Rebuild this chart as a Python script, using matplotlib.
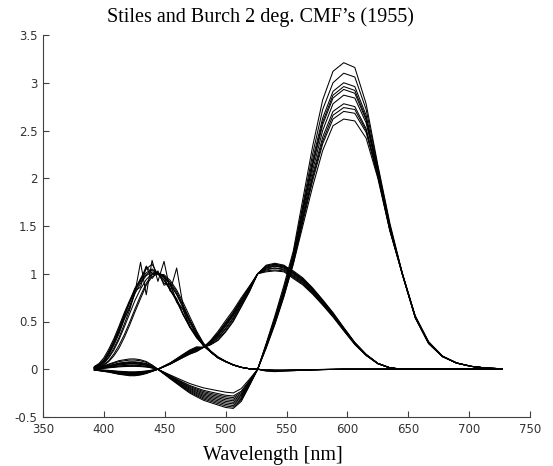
import matplotlib
matplotlib.use('Agg')
import matplotlib.pyplot as plt

# wavelengths (nm) of the 250 cm^-1 sampling, 392.2 .. 727.3
wl = [392.2, 396.0, 400.0, 404.0, 408.2, 412.4, 416.7, 421.1, 425.5, 430.1, 434.8, 439.6,
      444.4, 449.4, 454.5, 459.8, 465.1, 470.6, 476.2, 481.9, 487.8, 493.8, 500.0, 506.3,
      512.8, 519.5, 526.3, 533.3, 540.5, 547.9, 555.6, 563.4, 571.4, 579.7, 588.2, 597.0,
      606.1, 615.4, 625.0, 634.9, 645.2, 655.7, 666.7, 678.0, 689.7, 701.8, 714.3, 727.3]

# r-bar, one row per observer
r_obs = [
    [0.01, 0.015, 0.02, 0.03, 0.04, 0.05, 0.055, 0.06, 0.06, 0.055, 0.045, 0.025,
     0.0, -0.048, -0.096, -0.144, -0.192, -0.24, -0.276, -0.312, -0.336, -0.36, -0.384, -0.396,
     -0.324, -0.168, 0.0, 0.27, 0.56, 0.88, 1.24, 1.78, 2.33, 2.82, 3.12, 3.21,
     3.16, 2.78, 2.14, 1.53, 1.00, 0.56, 0.28, 0.135, 0.065, 0.03, 0.012, 0.005],
    [0.016, 0.024, 0.032, 0.048, 0.064, 0.08, 0.088, 0.096, 0.096, 0.088, 0.072, 0.04,
     0.0, -0.04, -0.08, -0.12, -0.16, -0.20, -0.23, -0.26, -0.28, -0.30, -0.32, -0.33,
     -0.27, -0.14, 0.0, 0.26, 0.54, 0.85, 1.21, 1.72, 2.25, 2.72, 3.00, 3.10,
     3.06, 2.72, 2.12, 1.51, 1.00, 0.55, 0.28, 0.137, 0.066, 0.03, 0.012, 0.005],
    [0.007, 0.011, 0.014, 0.021, 0.028, 0.035, 0.039, 0.042, 0.042, 0.039, 0.032, 0.018,
     0.0, -0.034, -0.068, -0.102, -0.136, -0.17, -0.196, -0.221, -0.238, -0.255, -0.272, -0.28,
     -0.23, -0.119, 0.0, 0.25, 0.53, 0.83, 1.19, 1.69, 2.19, 2.63, 2.91, 3.00,
     2.96, 2.66, 2.09, 1.50, 0.99, 0.55, 0.28, 0.136, 0.065, 0.03, 0.012, 0.005],
    [0.012, 0.018, 0.024, 0.036, 0.048, 0.06, 0.066, 0.072, 0.072, 0.066, 0.054, 0.03,
     0.0, -0.044, -0.088, -0.132, -0.176, -0.22, -0.253, -0.286, -0.308, -0.33, -0.352, -0.363,
     -0.297, -0.154, 0.0, 0.24, 0.51, 0.81, 1.17, 1.66, 2.15, 2.59, 2.87, 2.96,
     2.92, 2.63, 2.08, 1.49, 1.00, 0.56, 0.29, 0.14, 0.067, 0.031, 0.013, 0.005],
    [0.005, 0.008, 0.01, 0.015, 0.02, 0.025, 0.028, 0.03, 0.03, 0.028, 0.023, 0.013,
     0.0, -0.038, -0.076, -0.114, -0.152, -0.19, -0.219, -0.247, -0.266, -0.285, -0.304, -0.314,
     -0.257, -0.133, 0.0, 0.25, 0.52, 0.82, 1.18, 1.65, 2.13, 2.56, 2.84, 2.93,
     2.89, 2.61, 2.07, 1.48, 0.99, 0.55, 0.28, 0.135, 0.065, 0.03, 0.012, 0.005],
    [0.018, 0.027, 0.036, 0.054, 0.072, 0.09, 0.099, 0.108, 0.108, 0.099, 0.081, 0.045,
     0.0, -0.05, -0.10, -0.15, -0.20, -0.25, -0.288, -0.325, -0.35, -0.375, -0.40, -0.41,
     -0.338, -0.175, 0.0, 0.24, 0.50, 0.80, 1.15, 1.61, 2.08, 2.50, 2.78, 2.87,
     2.84, 2.58, 2.06, 1.47, 1.00, 0.55, 0.28, 0.136, 0.066, 0.03, 0.012, 0.005],
    [0.009, 0.014, 0.018, 0.027, 0.036, 0.045, 0.05, 0.054, 0.054, 0.05, 0.041, 0.023,
     0.0, -0.03, -0.06, -0.09, -0.12, -0.15, -0.173, -0.195, -0.21, -0.225, -0.24, -0.248,
     -0.203, -0.105, 0.0, 0.23, 0.49, 0.78, 1.13, 1.58, 2.03, 2.43, 2.70, 2.78,
     2.75, 2.52, 2.04, 1.46, 0.99, 0.54, 0.27, 0.133, 0.064, 0.03, 0.012, 0.005],
    [0.013, 0.02, 0.026, 0.039, 0.052, 0.065, 0.072, 0.078, 0.078, 0.072, 0.059, 0.033,
     0.0, -0.042, -0.084, -0.126, -0.168, -0.21, -0.242, -0.273, -0.294, -0.315, -0.336, -0.347,
     -0.284, -0.147, 0.0, 0.24, 0.50, 0.79, 1.13, 1.57, 2.00, 2.39, 2.66, 2.74,
     2.72, 2.50, 2.03, 1.46, 1.00, 0.55, 0.28, 0.135, 0.065, 0.03, 0.012, 0.005],
    [0.006, 0.009, 0.012, 0.018, 0.024, 0.03, 0.033, 0.036, 0.036, 0.033, 0.027, 0.015,
     0.0, -0.036, -0.072, -0.108, -0.144, -0.18, -0.207, -0.234, -0.252, -0.27, -0.288, -0.297,
     -0.243, -0.126, 0.0, 0.22, 0.47, 0.76, 1.11, 1.54, 1.97, 2.36, 2.62, 2.70,
     2.68, 2.48, 2.02, 1.45, 0.99, 0.54, 0.27, 0.132, 0.064, 0.03, 0.012, 0.005],
    [0.011, 0.017, 0.022, 0.033, 0.044, 0.055, 0.061, 0.066, 0.066, 0.061, 0.05, 0.028,
     0.0, -0.046, -0.092, -0.138, -0.184, -0.23, -0.265, -0.299, -0.322, -0.345, -0.368, -0.38,
     -0.311, -0.161, 0.0, 0.23, 0.48, 0.77, 1.10, 1.50, 1.91, 2.29, 2.55, 2.62,
     2.60, 2.42, 2.00, 1.45, 1.00, 0.54, 0.27, 0.133, 0.065, 0.03, 0.012, 0.005],
]

# g-bar, one row per observer
g_obs = [
    [-0.007, -0.014, -0.021, -0.028, -0.039, -0.049, -0.056, -0.063, -0.063, -0.056, -0.042, -0.021,
     0.0, 0.034, 0.067, 0.112, 0.157, 0.202, 0.235, 0.23, 0.304, 0.398, 0.51, 0.62,
     0.748, 0.87, 1.0, 1.09, 1.11, 1.09, 1.02, 0.948, 0.845, 0.721, 0.587, 0.433,
     0.278, 0.155, 0.062, 0.015, 0.0, 0.0, 0.0, 0.0, 0.0, 0.0, 0.0, 0.0],
    [-0.004, -0.008, -0.012, -0.016, -0.022, -0.028, -0.032, -0.036, -0.036, -0.032, -0.024, -0.012,
     0.0, 0.032, 0.064, 0.106, 0.148, 0.191, 0.223, 0.23, 0.292, 0.374, 0.48, 0.59,
     0.724, 0.855, 1.0, 1.08, 1.10, 1.08, 1.01, 0.938, 0.836, 0.714, 0.581, 0.428,
     0.275, 0.153, 0.061, 0.015, 0.0, 0.0, 0.0, 0.0, 0.0, 0.0, 0.0, 0.0],
    [-0.006, -0.012, -0.018, -0.024, -0.034, -0.042, -0.048, -0.054, -0.054, -0.048, -0.036, -0.018,
     0.0, 0.029, 0.058, 0.096, 0.134, 0.173, 0.202, 0.23, 0.272, 0.334, 0.43, 0.54,
     0.684, 0.83, 1.0, 1.04, 1.06, 1.04, 0.97, 0.902, 0.804, 0.686, 0.559, 0.412,
     0.265, 0.147, 0.059, 0.015, 0.0, 0.0, 0.0, 0.0, 0.0, 0.0, 0.0, 0.0],
    [-0.003, -0.006, -0.009, -0.012, -0.017, -0.021, -0.024, -0.027, -0.027, -0.024, -0.018, -0.009,
     0.0, 0.03, 0.06, 0.10, 0.14, 0.18, 0.21, 0.23, 0.28, 0.35, 0.45, 0.56,
     0.70, 0.84, 1.0, 1.06, 1.08, 1.06, 0.99, 0.92, 0.82, 0.70, 0.57, 0.42,
     0.27, 0.15, 0.06, 0.015, 0.0, 0.0, 0.0, 0.0, 0.0, 0.0, 0.0, 0.0],
    [-0.008, -0.015, -0.023, -0.03, -0.042, -0.053, -0.06, -0.068, -0.068, -0.06, -0.045, -0.023,
     0.0, 0.027, 0.054, 0.09, 0.126, 0.162, 0.189, 0.23, 0.26, 0.31, 0.40, 0.51,
     0.66, 0.815, 1.0, 1.03, 1.04, 1.03, 0.96, 0.892, 0.795, 0.679, 0.553, 0.407,
     0.262, 0.146, 0.058, 0.015, 0.0, 0.0, 0.0, 0.0, 0.0, 0.0, 0.0, 0.0],
    [-0.005, -0.009, -0.014, -0.018, -0.025, -0.032, -0.036, -0.041, -0.041, -0.036, -0.027, -0.014,
     0.0, 0.032, 0.065, 0.108, 0.151, 0.194, 0.227, 0.23, 0.296, 0.382, 0.49, 0.60,
     0.732, 0.86, 1.0, 1.08, 1.10, 1.08, 1.03, 0.957, 0.853, 0.728, 0.593, 0.437,
     0.281, 0.156, 0.062, 0.016, 0.0, 0.0, 0.0, 0.0, 0.0, 0.0, 0.0, 0.0],
    [-0.006, -0.011, -0.017, -0.022, -0.031, -0.039, -0.044, -0.05, -0.05, -0.044, -0.033, -0.017,
     0.0, 0.028, 0.056, 0.094, 0.132, 0.169, 0.197, 0.23, 0.268, 0.326, 0.42, 0.53,
     0.676, 0.825, 1.0, 1.05, 1.06, 1.05, 0.98, 0.911, 0.812, 0.693, 0.564, 0.416,
     0.267, 0.149, 0.059, 0.015, 0.0, 0.0, 0.0, 0.0, 0.0, 0.0, 0.0, 0.0],
    [-0.004, -0.007, -0.011, -0.014, -0.02, -0.025, -0.028, -0.032, -0.032, -0.028, -0.021, -0.011,
     0.0, 0.031, 0.061, 0.102, 0.143, 0.184, 0.214, 0.23, 0.284, 0.358, 0.46, 0.57,
     0.708, 0.845, 1.0, 1.06, 1.08, 1.07, 1.00, 0.929, 0.828, 0.707, 0.576, 0.424,
     0.273, 0.152, 0.061, 0.015, 0.0, 0.0, 0.0, 0.0, 0.0, 0.0, 0.0, 0.0],
    [-0.007, -0.013, -0.02, -0.026, -0.036, -0.046, -0.052, -0.059, -0.059, -0.052, -0.039, -0.02,
     0.0, 0.026, 0.053, 0.088, 0.123, 0.158, 0.185, 0.23, 0.256, 0.302, 0.39, 0.50,
     0.652, 0.81, 1.0, 1.02, 1.03, 1.02, 0.95, 0.883, 0.787, 0.672, 0.547, 0.403,
     0.259, 0.144, 0.058, 0.014, 0.0, 0.0, 0.0, 0.0, 0.0, 0.0, 0.0, 0.0],
    [-0.005, -0.01, -0.015, -0.02, -0.028, -0.035, -0.04, -0.045, -0.045, -0.04, -0.03, -0.015,
     0.0, 0.031, 0.062, 0.104, 0.146, 0.187, 0.218, 0.23, 0.288, 0.366, 0.47, 0.58,
     0.716, 0.85, 1.0, 1.07, 1.09, 1.07, 1.01, 0.938, 0.836, 0.714, 0.581, 0.428,
     0.275, 0.153, 0.061, 0.015, 0.0, 0.0, 0.0, 0.0, 0.0, 0.0, 0.0, 0.0],
]

# b-bar, one row per observer
b_obs = [
    [0.02, 0.04, 0.07, 0.13, 0.22, 0.33, 0.47, 0.62, 0.80, 1.12, 0.78, 1.14,
     0.92, 1.13, 0.82, 1.06, 0.66, 0.48, 0.36, 0.26, 0.18, 0.12, 0.08, 0.045,
     0.02, 0.005, 0.0, -0.01, -0.012, -0.012, -0.01, -0.008, -0.005, -0.003, -0.002, 0.0,
     0.0, 0.0, 0.0, 0.0, 0.0, 0.0, 0.0, 0.0, 0.0, 0.0, 0.0, 0.0],
    [0.03, 0.06, 0.12, 0.21, 0.32, 0.45, 0.59, 0.72, 0.84, 0.94, 1.01, 1.05,
     1.00, 0.93, 0.83, 0.71, 0.57, 0.44, 0.33, 0.25, 0.18, 0.12, 0.08, 0.045,
     0.02, 0.005, 0.0, -0.015, -0.02, -0.018, -0.015, -0.01, -0.006, -0.003, -0.002, 0.0,
     0.0, 0.0, 0.0, 0.0, 0.0, 0.0, 0.0, 0.0, 0.0, 0.0, 0.0, 0.0],
    [0.01, 0.025, 0.05, 0.09, 0.16, 0.25, 0.36, 0.49, 0.63, 0.77, 0.90, 0.99,
     1.00, 0.98, 0.91, 0.81, 0.67, 0.52, 0.38, 0.27, 0.19, 0.125, 0.082, 0.046,
     0.02, 0.005, 0.0, -0.01, -0.012, -0.012, -0.01, -0.008, -0.005, -0.003, -0.002, 0.0,
     0.0, 0.0, 0.0, 0.0, 0.0, 0.0, 0.0, 0.0, 0.0, 0.0, 0.0, 0.0],
    [0.02, 0.05, 0.09, 0.17, 0.28, 0.40, 0.55, 0.70, 0.85, 0.93, 1.08, 1.00,
     1.01, 0.90, 0.88, 0.72, 0.62, 0.45, 0.35, 0.24, 0.18, 0.12, 0.08, 0.044,
     0.02, 0.005, 0.0, -0.008, -0.01, -0.01, -0.008, -0.006, -0.004, -0.002, -0.001, 0.0,
     0.0, 0.0, 0.0, 0.0, 0.0, 0.0, 0.0, 0.0, 0.0, 0.0, 0.0, 0.0],
    [0.015, 0.03, 0.06, 0.12, 0.20, 0.31, 0.44, 0.58, 0.72, 0.84, 0.94, 1.00,
     1.01, 0.97, 0.89, 0.78, 0.64, 0.50, 0.37, 0.26, 0.18, 0.12, 0.08, 0.045,
     0.02, 0.005, 0.0, -0.012, -0.015, -0.014, -0.012, -0.009, -0.006, -0.003, -0.002, 0.0,
     0.0, 0.0, 0.0, 0.0, 0.0, 0.0, 0.0, 0.0, 0.0, 0.0, 0.0, 0.0],
    [0.02, 0.04, 0.08, 0.15, 0.25, 0.37, 0.52, 0.64, 0.82, 0.86, 1.07, 0.95,
     1.03, 0.88, 0.90, 0.70, 0.63, 0.44, 0.35, 0.25, 0.18, 0.12, 0.08, 0.045,
     0.02, 0.005, 0.0, -0.01, -0.012, -0.012, -0.01, -0.008, -0.005, -0.003, -0.002, 0.0,
     0.0, 0.0, 0.0, 0.0, 0.0, 0.0, 0.0, 0.0, 0.0, 0.0, 0.0, 0.0],
    [0.025, 0.05, 0.10, 0.19, 0.30, 0.43, 0.57, 0.70, 0.82, 0.92, 0.99, 1.04,
     1.00, 0.96, 0.89, 0.79, 0.66, 0.51, 0.38, 0.26, 0.18, 0.12, 0.08, 0.045,
     0.02, 0.005, 0.0, -0.02, -0.025, -0.02, -0.015, -0.01, -0.006, -0.003, -0.002, 0.0,
     0.0, 0.0, 0.0, 0.0, 0.0, 0.0, 0.0, 0.0, 0.0, 0.0, 0.0, 0.0],
    [0.02, 0.04, 0.08, 0.16, 0.27, 0.39, 0.53, 0.66, 0.79, 0.90, 0.98, 1.02,
     1.00, 0.94, 0.84, 0.72, 0.58, 0.44, 0.33, 0.25, 0.18, 0.12, 0.08, 0.045,
     0.02, 0.005, 0.0, -0.01, -0.012, -0.012, -0.01, -0.008, -0.005, -0.003, -0.002, 0.0,
     0.0, 0.0, 0.0, 0.0, 0.0, 0.0, 0.0, 0.0, 0.0, 0.0, 0.0, 0.0],
    [0.01, 0.02, 0.04, 0.08, 0.14, 0.22, 0.33, 0.46, 0.60, 0.74, 0.88, 0.97,
     1.00, 0.99, 0.93, 0.83, 0.70, 0.55, 0.40, 0.27, 0.19, 0.13, 0.085, 0.048,
     0.022, 0.006, 0.0, -0.008, -0.01, -0.01, -0.008, -0.006, -0.004, -0.002, -0.001, 0.0,
     0.0, 0.0, 0.0, 0.0, 0.0, 0.0, 0.0, 0.0, 0.0, 0.0, 0.0, 0.0],
    [0.02, 0.04, 0.09, 0.17, 0.28, 0.41, 0.56, 0.70, 0.83, 0.95, 1.05, 1.10,
     0.99, 0.97, 0.82, 0.74, 0.57, 0.45, 0.34, 0.25, 0.18, 0.12, 0.08, 0.045,
     0.02, 0.005, 0.0, -0.01, -0.012, -0.012, -0.01, -0.008, -0.005, -0.003, -0.002, 0.0,
     0.0, 0.0, 0.0, 0.0, 0.0, 0.0, 0.0, 0.0, 0.0, 0.0, 0.0, 0.0],
]

x_ticks = [350, 400, 450, 500, 550, 600, 650, 700, 750]
y_ticks = [-0.5, 0, 0.5, 1, 1.5, 2, 2.5, 3, 3.5]
y_tick_labels = ['-0.5', '0', '0.5', '1', '1.5', '2', '2.5', '3', '3.5']

fig = plt.figure(figsize=(5.53, 4.66), dpi=100)
ax = fig.add_axes([43 / 553, 49 / 466, 487 / 553, 382 / 466])

for obs in [r_obs, g_obs, b_obs]:
    for curva in obs:
        ax.plot(wl, curva, color='black', linewidth=0.75)

ax.set_xlim(350, 750)
ax.set_ylim(-0.5, 3.5)
ax.set_xticks(x_ticks)
ax.set_xticklabels([str(t) for t in x_ticks])
ax.set_yticks(y_ticks)
ax.set_yticklabels(y_tick_labels)

ax.spines['top'].set_visible(False)
ax.spines['right'].set_visible(False)
for s in ['left', 'bottom']:
    ax.spines[s].set_color('#404040')
    ax.spines[s].set_linewidth(0.8)
ax.tick_params(direction='in', length=4, width=0.8, color='#404040',
               labelsize=8.5, labelcolor='#333333', pad=4)
for lab in ax.get_xticklabels() + ax.get_yticklabels():
    lab.set_family('DejaVu Sans')

ax.set_title("Stiles and Burch 2 deg. CMF\u2019s (1955)", family='Liberation Serif',
             fontsize=14.5, x=0.447, y=1.034, pad=0)
ax.set_xlabel('Wavelength [nm]', family='Liberation Serif', fontsize=14.5, va='baseline')
ax.xaxis.set_label_coords(0.473, -0.1126)

fig.savefig('out.png', dpi=100)
